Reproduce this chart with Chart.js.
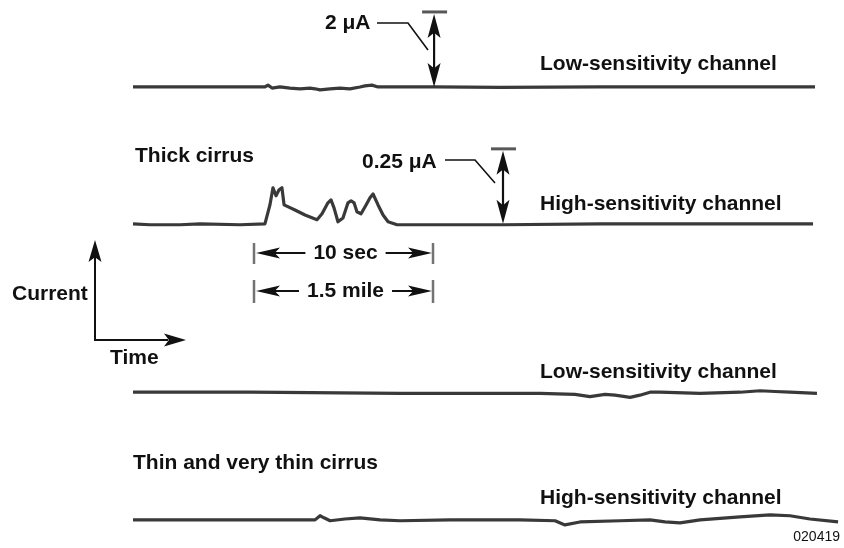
<!DOCTYPE html>
<html>
<head>
<meta charset="utf-8">
<script src="https://cdn.jsdelivr.net/npm/chart.js@4/dist/chart.umd.min.js"></script>
<style>
  html, body { margin: 0; padding: 0; background: #ffffff; }
  #wrap { width: 844px; height: 548px; }
</style>
</head>
<body>
<div id="wrap"><canvas id="c" width="844" height="548"></canvas></div>
<script>
// Electrometer traces through cirrus: time in seconds, current in microamps
// relative to each channel's baseline.

// Thick cirrus, low-sensitivity channel
const tLowThick = [0, 3.74, 7.37, 7.54, 7.77, 8.21, 8.77, 9.33, 9.89, 10.17, 10.45, 11.01, 11.56, 12.12, 12.68, 12.96, 13.35, 13.69, 14.36, 16.82, 20.50, 26.09, 31.68, 38.10];
const iLowThick = [0, 0, 0, 0.05, -0.03, 0, -0.03, -0.05, -0.03, -0.05, -0.08, -0.05, -0.03, -0.05, 0, 0.03, 0.05, 0, 0, 0, -0.01, 0, 0, 0];

// Thick cirrus, high-sensitivity channel
const tHighThick = [0, 0.95, 2.63, 3.74, 5.98, 7.37, 7.65, 7.82, 7.99, 8.16, 8.32, 8.44, 9.05, 9.61, 10.28, 10.56, 10.89, 11.06, 11.23, 11.45, 11.73, 12.01, 12.18, 12.35, 12.51, 12.74, 13.02, 13.24, 13.41, 13.69, 13.97, 14.25, 14.75, 17.71, 20.67, 26.09, 31.68, 37.99];
const iHighThick = [0, -0.003, -0.003, 0, -0.003, 0, 0.064, 0.122, 0.095, 0.115, 0.122, 0.064, 0.047, 0.030, 0.014, 0.034, 0.071, 0.081, 0.054, 0.007, 0.020, 0.071, 0.078, 0.071, 0.041, 0.034, 0.064, 0.088, 0.101, 0.064, 0.030, 0.007, -0.003, -0.003, -0.003, 0, 0, 0];

// Thin and very thin cirrus, low-sensitivity channel
const tLowThin = [0, 6.54, 14.92, 19.39, 22.74, 24.69, 25.53, 26.37, 26.93, 27.77, 28.32, 28.88, 29.44, 31.68, 33.91, 35.03, 35.87, 36.70, 38.21];
const iLowThin = [0.03, 0.03, 0, 0, 0, -0.03, -0.09, -0.03, -0.05, -0.11, -0.05, 0.03, 0.03, 0, 0.03, 0.07, 0.05, 0.03, 0];

// Thin and very thin cirrus, high-sensitivity channel
const tHighThin = [0, 6.54, 10.17, 10.45, 10.67, 11.01, 11.84, 12.68, 13.80, 14.92, 17.71, 21.62, 23.58, 24.13, 24.97, 27.21, 28.88, 29.72, 30.56, 31.68, 33.91, 35.59, 36.70, 37.82, 39.39];
const iHighThin = [0, 0, 0, 0.014, 0.007, -0.003, 0.003, 0.007, 0, -0.003, 0, 0, -0.003, -0.017, -0.007, -0.003, 0, -0.007, -0.010, 0, 0.010, 0.017, 0.014, 0.003, -0.007];

// Full-scale current of each channel (µA) and the trace offsets in full-scale units
const fullScale = [2, 0.25, 2, 0.25];
const rowBase = [6.23, 4.38, 2.09, 0.38];

// Scale bars and the timing bracket
const scaleBarTime = [16.82, 20.67];
const scaleBarLabels = ['2 \u03bcA', '0.25 \u03bcA'];
const bracketStart = 6.76;
const bracketSeconds = 10;

const traces = [
  [tLowThick, iLowThick],
  [tHighThick, iHighThick],
  [tLowThin, iLowThin],
  [tHighThin, iHighThin]
];

const datasets = traces.map(([t, cur], k) => ({
  data: t.map((tt, j) => ({ x: tt, y: rowBase[k] + cur[j] / fullScale[k] })),
  borderColor: 'rgba(40,40,40,0.92)',
  borderWidth: 3.2,
  pointRadius: 0,
  tension: 0,
  borderJoinStyle: 'round',
  fill: false
}));

const FONT = '"Liberation Sans", Arial, Helvetica, sans-serif';
const INK = '#111111';

function arrowHead(ctx, x, y, dx, dy, len, half) {
  const nx = -dy, ny = dx;
  const bx = x - dx * len, by = y - dy * len;
  const mx = x - dx * len * 0.78, my = y - dy * len * 0.78;
  ctx.beginPath();
  ctx.moveTo(x, y);
  ctx.lineTo(bx + nx * half, by + ny * half);
  ctx.lineTo(mx, my);
  ctx.lineTo(bx - nx * half, by - ny * half);
  ctx.closePath();
  ctx.fill();
}

function line(ctx, x1, y1, x2, y2) {
  ctx.beginPath();
  ctx.moveTo(x1, y1);
  ctx.lineTo(x2, y2);
  ctx.stroke();
}

const softTraces = {
  id: 'softTraces',
  beforeDatasetsDraw(chart) {
    chart.ctx.save();
    chart.ctx.filter = 'blur(0.6px)';
  },
  afterDatasetsDraw(chart) {
    chart.ctx.restore();
  }
};

const annotations = {
  id: 'annotations',
  afterDraw(chart) {
    const ctx = chart.ctx;
    const xs = chart.scales.x, ys = chart.scales.y;
    ctx.save();
    ctx.fillStyle = INK;
    ctx.strokeStyle = INK;
    ctx.textBaseline = 'middle';

    // channel scale bars: double arrow from baseline to baseline + full scale
    const leaders = [
      { tx: 325, ty: 23, hx1: 377, hx2: 408, ly: 23, dx: 428, dy: 50 },
      { tx: 362, ty: 162, hx1: 445, hx2: 475, ly: 160, dx: 495, dy: 183 }
    ];
    [0, 1].forEach(k => {
      const px = xs.getPixelForValue(scaleBarTime[k]);
      const y0 = ys.getPixelForValue(rowBase[k]);
      const y1 = ys.getPixelForValue(rowBase[k] + 1);
      // top bar
      ctx.save();
      ctx.strokeStyle = 'rgba(70,70,70,0.9)';
      ctx.lineWidth = 3;
      ctx.filter = 'blur(0.4px)';
      line(ctx, px - 12, y1 - 1, px + 13, y1 - 1);
      ctx.restore();
      ctx.lineWidth = 2.2;
      line(ctx, px, y1 + 10, px, y0 - 10);
      arrowHead(ctx, px, y1 + 1, 0, -1, 24, 6.5);
      arrowHead(ctx, px, y0, 0, 1, 24, 6.5);
      // label + leader
      const L = leaders[k];
      ctx.font = 'bold 21px ' + FONT;
      ctx.textAlign = 'left';
      ctx.fillText(scaleBarLabels[k], L.tx, L.ty);
      ctx.lineWidth = 1.6;
      ctx.beginPath();
      ctx.moveTo(L.hx1, L.ly);
      ctx.lineTo(L.hx2, L.ly);
      ctx.lineTo(L.dx, L.dy);
      ctx.stroke();
    });

    // timing bracket: 10 s of record = 1.5 mile of flight
    const bx0 = xs.getPixelForValue(bracketStart);
    const bx1 = xs.getPixelForValue(bracketStart + bracketSeconds);
    const rows = [
      { y: 253, text: '10 sec', t0: 243, t1: 264 },
      { y: 291, text: '1.5 mile', t0: 280, t1: 303 }
    ];
    rows.forEach(r => {
      ctx.save();
      ctx.strokeStyle = 'rgba(90,90,90,0.85)';
      ctx.lineWidth = 2.5;
      ctx.filter = 'blur(0.5px)';
      line(ctx, bx0, r.t0, bx0, r.t1);
      line(ctx, bx1, r.t0, bx1, r.t1);
      ctx.restore();
      ctx.font = 'bold 21px ' + FONT;
      ctx.textAlign = 'center';
      const cx = (bx0 + bx1) / 2 + 2;
      ctx.fillText(r.text, cx, r.y);
      const half = ctx.measureText(r.text).width / 2;
      ctx.lineWidth = 2;
      line(ctx, bx0 + 18, r.y, cx - half - 8, r.y);
      line(ctx, cx + half + 8, r.y, bx1 - 18, r.y);
      arrowHead(ctx, bx0 + 2, r.y, -1, 0, 24, 5.5);
      arrowHead(ctx, bx1 - 1, r.y, 1, 0, 24, 5.5);
    });

    // current / time axes sketch
    ctx.lineWidth = 2;
    line(ctx, 95, 341, 95, 256);
    line(ctx, 94, 340, 168, 340);
    arrowHead(ctx, 95, 240, 0, -1, 22, 6.5);
    arrowHead(ctx, 186, 340, 1, 0, 22, 6.5);
    ctx.font = 'bold 21px ' + FONT;
    ctx.textAlign = 'left';
    ctx.fillText('Current', 12, 294);
    ctx.fillText('Time', 110, 358);

    // titles and channel names
    ctx.fillText('Thick cirrus', 135, 156);
    ctx.fillText('Thin and very thin cirrus', 133, 463);
    ctx.fillText('Low-sensitivity channel', 540, 64);
    ctx.fillText('High-sensitivity channel', 540, 204);
    ctx.fillText('Low-sensitivity channel', 540, 372);
    ctx.fillText('High-sensitivity channel', 540, 498);

    ctx.font = '14px ' + FONT;
    ctx.textAlign = 'right';
    ctx.fillText('020419', 840, 537);
    ctx.restore();
  }
};

new Chart(document.getElementById('c'), {
  type: 'line',
  data: { datasets },
  options: {
    responsive: false,
    animation: false,
    layout: { padding: 0 },
    scales: {
      x: { type: 'linear', display: false, min: -7.43, max: 39.72 },
      y: { type: 'linear', display: false, min: 0, max: 7.405 }
    },
    plugins: {
      legend: { display: false },
      tooltip: { enabled: false }
    }
  },
  plugins: [softTraces, annotations]
});
</script>
</body>
</html>
